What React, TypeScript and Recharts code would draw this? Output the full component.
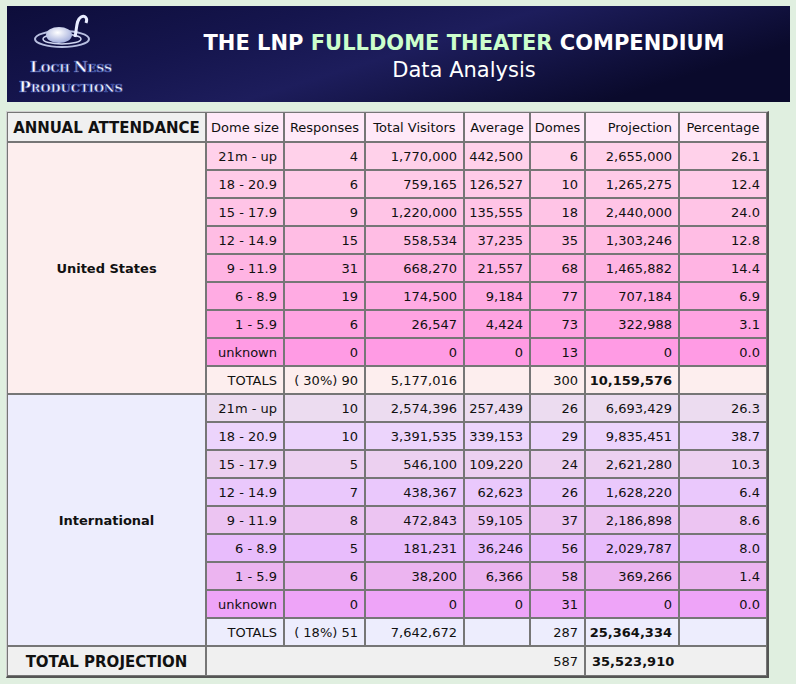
import React from "react";
import { Bar, BarChart, XAxis, YAxis } from "recharts";

const groups = ["United States", "International"];
const domeSizes = ["21m - up", "18 - 20.9", "15 - 17.9", "12 - 14.9", "9 - 11.9", "6 - 8.9", "1 - 5.9", "unknown"];
const columnLabels = ["ANNUAL ATTENDANCE", "Dome size", "Responses", "Total Visitors", "Average", "Domes", "Projection", "Percentage"];

const usResponses = [4, 6, 9, 15, 31, 19, 6, 0];
const usVisitors = [1770000, 759165, 1220000, 558534, 668270, 174500, 26547, 0];
const usAverage = [442500, 126527, 135555, 37235, 21557, 9184, 4424, 0];
const usDomes = [6, 10, 18, 35, 68, 77, 73, 13];
const usProjection = [2655000, 1265275, 2440000, 1303246, 1465882, 707184, 322988, 0];
const usPercentage = [26.1, 12.4, 24.0, 12.8, 14.4, 6.9, 3.1, 0.0];

const intlResponses = [10, 10, 5, 7, 8, 5, 6, 0];
const intlVisitors = [2574396, 3391535, 546100, 438367, 472843, 181231, 38200, 0];
const intlAverage = [257439, 339153, 109220, 62623, 59105, 36246, 6366, 0];
const intlDomes = [26, 29, 24, 26, 37, 56, 58, 31];
const intlProjection = [6693429, 9835451, 2621280, 1628220, 2186898, 2029787, 369266, 0];
const intlPercentage = [26.3, 38.7, 10.3, 6.4, 8.6, 8.0, 1.4, 0.0];

const totalShare = [30, 18];
const totalResponses = [90, 51];
const totalVisitors = [5177016, 7642672];
const totalDomes = [300, 287];
const totalProjection = [10159576, 25364334];
const grandDomes = 587;
const grandProjection = 35523910;

// ---- layout / styling ----
const FONT = "'DejaVu Sans', Verdana, sans-serif";
const TABLE_W = 760;
const COLS = [
  { w: 199, align: "middle" },
  { w: 78, align: "end" },
  { w: 81, align: "end" },
  { w: 99, align: "end" },
  { w: 66, align: "end" },
  { w: 55, align: "end" },
  { w: 94, align: "end" },
  { w: 88, align: "end" },
];
const HEADER_ALIGN = ["middle", "middle", "middle", "middle", "middle", "middle", "end", "middle"];
const colStart = COLS.map((_, i) => COLS.slice(0, i).reduce((s, c) => s + c.w, 0));

const GROUP_FILL = ["#fdeeee", "#ededfd"];
const ROW_FILL = [
  ["#ffd1ea", "#ffcbe8", "#ffc4e6", "#ffbde4", "#ffb4e3", "#ffabe3", "#ffa3e2", "#ff9be4"],
  ["#ecdcf0", "#ecd4fc", "#ecd0f0", "#eac8fc", "#ecc4f2", "#e8bcfc", "#ecb4f0", "#eea4f8"],
];
const BORDER = "#767676";

const fmt = (n: number) => n.toLocaleString("en-US");

type Row = {
  key: string;
  g: number;
  idx: number;
  totals: boolean;
  cells: string[];
};

const series = [
  [usResponses, usVisitors, usAverage, usDomes, usProjection, usPercentage],
  [intlResponses, intlVisitors, intlAverage, intlDomes, intlProjection, intlPercentage],
];

const rows: Row[] = [];
groups.forEach((name, g) => {
  const [resp, vis, avg, domes, proj, pct] = series[g];
  domeSizes.forEach((size, i) => {
    rows.push({
      key: `${g}-${i}`,
      g,
      idx: i,
      totals: false,
      cells: [name, size, fmt(resp[i]), fmt(vis[i]), fmt(avg[i]), fmt(domes[i]), fmt(proj[i]), pct[i].toFixed(1)],
    });
  });
  rows.push({
    key: `${g}-t`,
    g,
    idx: domeSizes.length,
    totals: true,
    cells: [name, "TOTALS", `( ${totalShare[g]}%) ${totalResponses[g]}`, fmt(totalVisitors[g]), "", fmt(totalDomes[g]), fmt(totalProjection[g]), ""],
  });
});

const headerTicks = COLS.map((c, i) => colStart[i] + c.w / 2);
const footerSpans = [
  { from: 0, to: colStart[1], text: "TOTAL PROJECTION", align: "middle", bold: true, size: 15 },
  { from: colStart[1], to: colStart[6], text: fmt(grandDomes), align: "end", bold: false, size: 13 },
  { from: colStart[6], to: TABLE_W, text: fmt(grandProjection), align: "start", bold: true, size: 13 },
];
const footerTicks = footerSpans.map((s) => (s.from + s.to) / 2);

function CellText({ x, w, cy, text, align, bold, size = 13 }: any) {
  const tx = align === "middle" ? x + w / 2 : align === "end" ? x + w - 7 : x + 7;
  return (
    <text x={tx} y={cy} textAnchor={align} dominantBaseline="central" fontFamily={FONT} fontSize={size} fontWeight={bold ? "bold" : "normal"} fill="#111">
      {text}
    </text>
  );
}

function Cell({ x, y, w, h, fill }: any) {
  return <rect x={x + 0.5} y={y + 0.5} width={w - 1} height={h - 1} fill={fill} stroke={BORDER} strokeWidth={1} />;
}

const makeShape = (c: number) => (props: any) => {
  const { x, y, width, height, payload } = props;
  const row: Row = payload;
  if (c === 0) {
    if (row.idx !== 0) return <g />;
    const h = height * (domeSizes.length + 1);
    return (
      <g>
        <Cell x={x} y={y} w={width} h={h} fill={GROUP_FILL[row.g]} />
        <CellText x={x} w={width} cy={y + h / 2} text={row.cells[0]} align="middle" bold />
      </g>
    );
  }
  const fill = row.totals ? GROUP_FILL[row.g] : ROW_FILL[row.g][row.idx];
  return (
    <g>
      <Cell x={x} y={y} w={width} h={height} fill={fill} />
      <CellText x={x} w={width} cy={y + height / 2 + 0.5} text={row.cells[c]} align={COLS[c].align} bold={row.totals && c === 6} />
    </g>
  );
};

function HeaderTick(props: any) {
  const { x, y, index } = props;
  const w = COLS[index].w;
  const left = x - w / 2;
  const top = y - 30;
  return (
    <g>
      <Cell x={left} y={top} w={w} h={30} fill={index === 0 ? "#f0f0f0" : "#ffe9f8"} />
      <CellText x={left} w={w} cy={top + 15.5} text={columnLabels[index]} align={HEADER_ALIGN[index]} bold={index === 0} size={index === 0 ? 15 : 13} />
    </g>
  );
}

function FooterTick(props: any) {
  const { x, y, index } = props;
  const s = footerSpans[index];
  const w = s.to - s.from;
  const left = x - w / 2;
  return (
    <g>
      <Cell x={left} y={y} w={w} h={30} fill="#f0f0f0" />
      <CellText x={left} w={w} cy={y + 15.5} text={s.text} align={s.align} bold={s.bold} size={s.size} />
    </g>
  );
}

function Banner() {
  const logoText = { fontFamily: "'DejaVu Serif', serif", fontWeight: "bold", fill: "#ffffff", stroke: "#3c4ca0", strokeWidth: 0.7 } as const;
  return (
    <svg width={783} height={96} style={{ position: "absolute", left: 7, top: 6 }}>
      <defs>
        <linearGradient id="sky" x1="0" y1="0" x2="1" y2="0.4">
          <stop offset="0" stopColor="#0d0d3a" />
          <stop offset="0.35" stopColor="#15154d" />
          <stop offset="0.6" stopColor="#1d1d5c" />
          <stop offset="1" stopColor="#0a0a2c" />
        </linearGradient>
        <radialGradient id="egg" cx="0.45" cy="0.35" r="0.7">
          <stop offset="0" stopColor="#ffffff" />
          <stop offset="1" stopColor="#9aa6d8" />
        </radialGradient>
      </defs>
      <rect width={783} height={96} fill="url(#sky)" />
      <g>
        <ellipse cx={55} cy={33} rx={27} ry={8} fill="none" stroke="#b8bfe0" strokeWidth={2} />
        <ellipse cx={55} cy={33} rx={19} ry={5} fill="none" stroke="#d0d6f0" strokeWidth={1.5} />
        <ellipse cx={52} cy={29} rx={13} ry={8} fill="url(#egg)" />
        <path d="M68 31 C70 22, 69 14, 74 11 C78 9, 81 12, 79 17" fill="none" stroke="#e8ecff" strokeWidth={3} />
        <text x={64} y={66} textAnchor="middle" textLength={82} lengthAdjust="spacingAndGlyphs" {...logoText}>
          <tspan fontSize={15}>L</tspan>
          <tspan fontSize={11}>OCH </tspan>
          <tspan fontSize={15}>N</tspan>
          <tspan fontSize={11}>ESS</tspan>
        </text>
        <text x={64} y={86} textAnchor="middle" textLength={104} lengthAdjust="spacingAndGlyphs" {...logoText}>
          <tspan fontSize={15}>P</tspan>
          <tspan fontSize={11}>RODUCTIONS</tspan>
        </text>
      </g>
      <text x={457} y={44} textAnchor="middle" fontFamily={FONT} fontWeight="bold" fontSize={21} fill="#ffffff">
        THE LNP <tspan fill="#ccffcc">FULLDOME THEATER</tspan> COMPENDIUM
      </text>
      <text x={457} y={71} textAnchor="middle" fontFamily={FONT} fontSize={21} fill="#ffffff">
        Data Analysis
      </text>
    </svg>
  );
}

export default function App() {
  return (
    <div style={{ position: "absolute", left: 0, top: 0, width: 796, height: 684, background: "#e0efe0", overflow: "hidden" }}>
      <Banner />
      <div style={{ position: "absolute", left: 0, top: 0 }}>
        <BarChart
          layout="vertical"
          width={796}
          height={684}
          data={rows}
          margin={{ top: 112, right: 29, bottom: 8, left: 7 }}
          barCategoryGap={0}
          barGap={0}
        >
          <YAxis type="category" dataKey="key" hide />
          <XAxis
            xAxisId="top"
            orientation="top"
            type="number"
            domain={[0, TABLE_W]}
            allowDataOverflow
            height={30}
            ticks={headerTicks}
            interval={0}
            tickSize={0}
            tickMargin={0}
            tickLine={false}
            axisLine={false}
            tick={(p: any) => <HeaderTick {...p} />}
          />
          <XAxis
            xAxisId="bottom"
            orientation="bottom"
            type="number"
            domain={[0, TABLE_W]}
            allowDataOverflow
            height={30}
            ticks={footerTicks}
            interval={0}
            tickSize={0}
            tickMargin={0}
            tickLine={false}
            axisLine={false}
            tick={(p: any) => <FooterTick {...p} />}
          />
          {COLS.map((c, i) => (
            <Bar
              key={i}
              xAxisId="top"
              stackId="table"
              dataKey={() => c.w}
              isAnimationActive={false}
              shape={makeShape(i)}
            />
          ))}
        </BarChart>
      </div>
      <div
        style={{
          position: "absolute",
          left: 6,
          top: 111,
          width: 763,
          height: 567,
          boxSizing: "border-box",
          borderTop: "1px solid #cfcfcf",
          borderLeft: "1px solid #cfcfcf",
          borderRight: "2px solid #555",
          borderBottom: "2px solid #555",
          pointerEvents: "none",
        }}
      />
    </div>
  );
}
